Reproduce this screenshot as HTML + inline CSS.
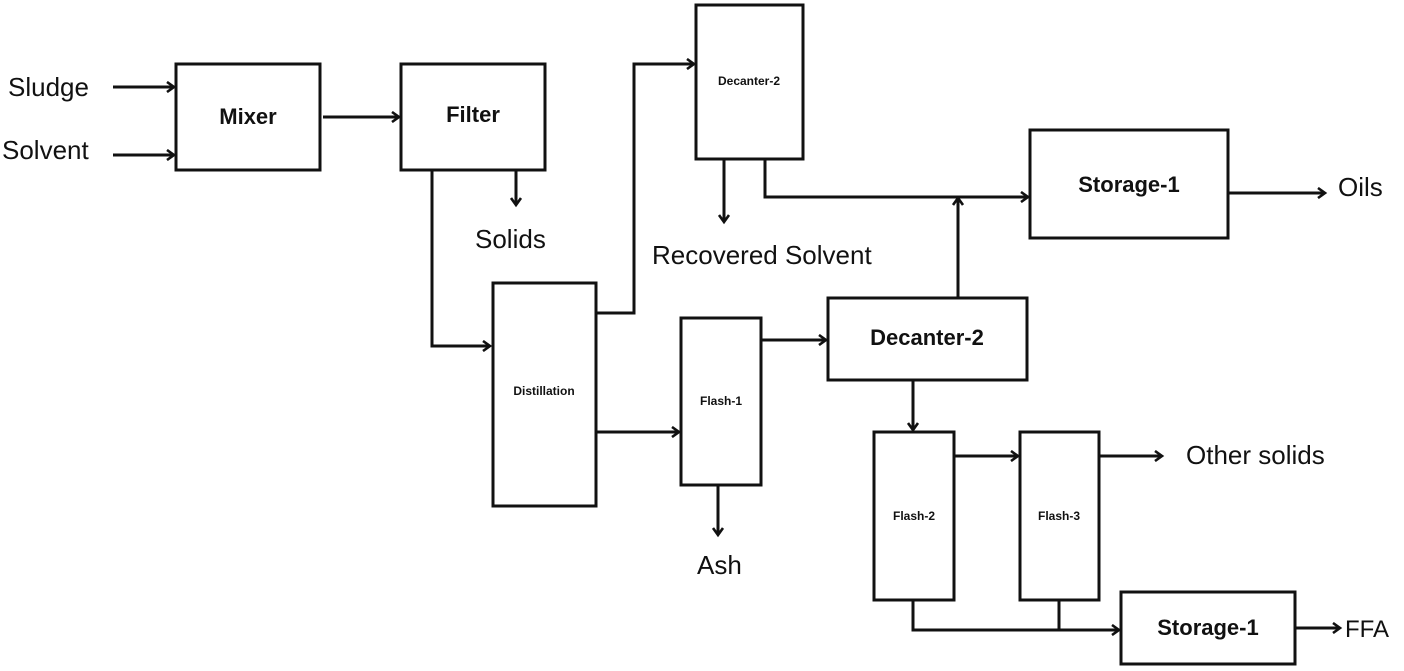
<!DOCTYPE html>
<html><head><meta charset="utf-8"><style>
html,body{margin:0;padding:0;background:#fff;}
svg{display:block;}
text{font-family:"Liberation Sans",sans-serif;fill:#111;}
.b{font-weight:bold;font-size:22px;}
.s{font-weight:bold;font-size:12px;}
.l{font-size:26px;}
</style></head><body>
<svg width="1404" height="671" viewBox="0 0 1404 671" xmlns="http://www.w3.org/2000/svg">
<defs><marker id="a" markerWidth="12" markerHeight="12" refX="9" refY="6" orient="auto" markerUnits="userSpaceOnUse"><path d="M2,1 L9,6 L2,11" fill="none" stroke="#111" stroke-width="2.6"/></marker></defs>
<g fill="none" stroke="#111" stroke-width="3">
<rect x="176" y="64" width="144" height="106"/>
<rect x="401" y="64" width="144" height="106"/>
<rect x="696" y="5" width="107" height="154"/>
<rect x="1030" y="130" width="198" height="108"/>
<rect x="493" y="283" width="103" height="223"/>
<rect x="681" y="318" width="80" height="167"/>
<rect x="828" y="298" width="199" height="82"/>
<rect x="874" y="432" width="80" height="168"/>
<rect x="1020" y="432" width="79" height="168"/>
<rect x="1121" y="592" width="174" height="72"/>
</g>
<g fill="none" stroke="#111" stroke-width="3" marker-end="url(#a)">
<path d="M113,87 H174"/>
<path d="M113,155 H174"/>
<path d="M323,117 H399"/>
<path d="M516,170 V205"/>
<path d="M432,170 V346 H490"/>
<path d="M596,313 H634 V64 H694"/>
<path d="M724,159 V222"/>
<path d="M765,159 V197 H1028"/>
<path d="M958,298 V198"/>
<path d="M1228,193 H1325"/>
<path d="M596,432 H679"/>
<path d="M718,485 V535"/>
<path d="M761,340 H826"/>
<path d="M913,380 V430"/>
<path d="M954,456 H1018"/>
<path d="M1099,456 H1162"/>
<path d="M913,600 V630 H1119"/>
<path d="M1295,628 H1340"/>
</g>
<path d="M1059,600 V630" stroke="#111" stroke-width="3"/>
<text class="b" x="248" y="124" text-anchor="middle">Mixer</text>
<text class="b" x="473" y="122" text-anchor="middle">Filter</text>
<text class="s" x="749" y="85" text-anchor="middle">Decanter-2</text>
<text class="b" x="1129" y="192" text-anchor="middle">Storage-1</text>
<text class="s" x="544" y="395" text-anchor="middle">Distillation</text>
<text class="s" x="721" y="405" text-anchor="middle">Flash-1</text>
<text class="b" x="927" y="345" text-anchor="middle">Decanter-2</text>
<text class="s" x="914" y="520" text-anchor="middle">Flash-2</text>
<text class="s" x="1059" y="520" text-anchor="middle">Flash-3</text>
<text class="b" x="1208" y="635" text-anchor="middle">Storage-1</text>
<text class="l" x="8" y="96">Sludge</text>
<text class="l" x="2" y="159">Solvent</text>
<text class="l" x="475" y="248">Solids</text>
<text class="l" x="652" y="264">Recovered Solvent</text>
<text class="l" x="1338" y="196">Oils</text>
<text class="l" x="697" y="574">Ash</text>
<text class="l" x="1186" y="464">Other solids</text>
<text class="l" x="1345" y="637" style="font-size:24px">FFA</text>
</svg>
</body></html>
